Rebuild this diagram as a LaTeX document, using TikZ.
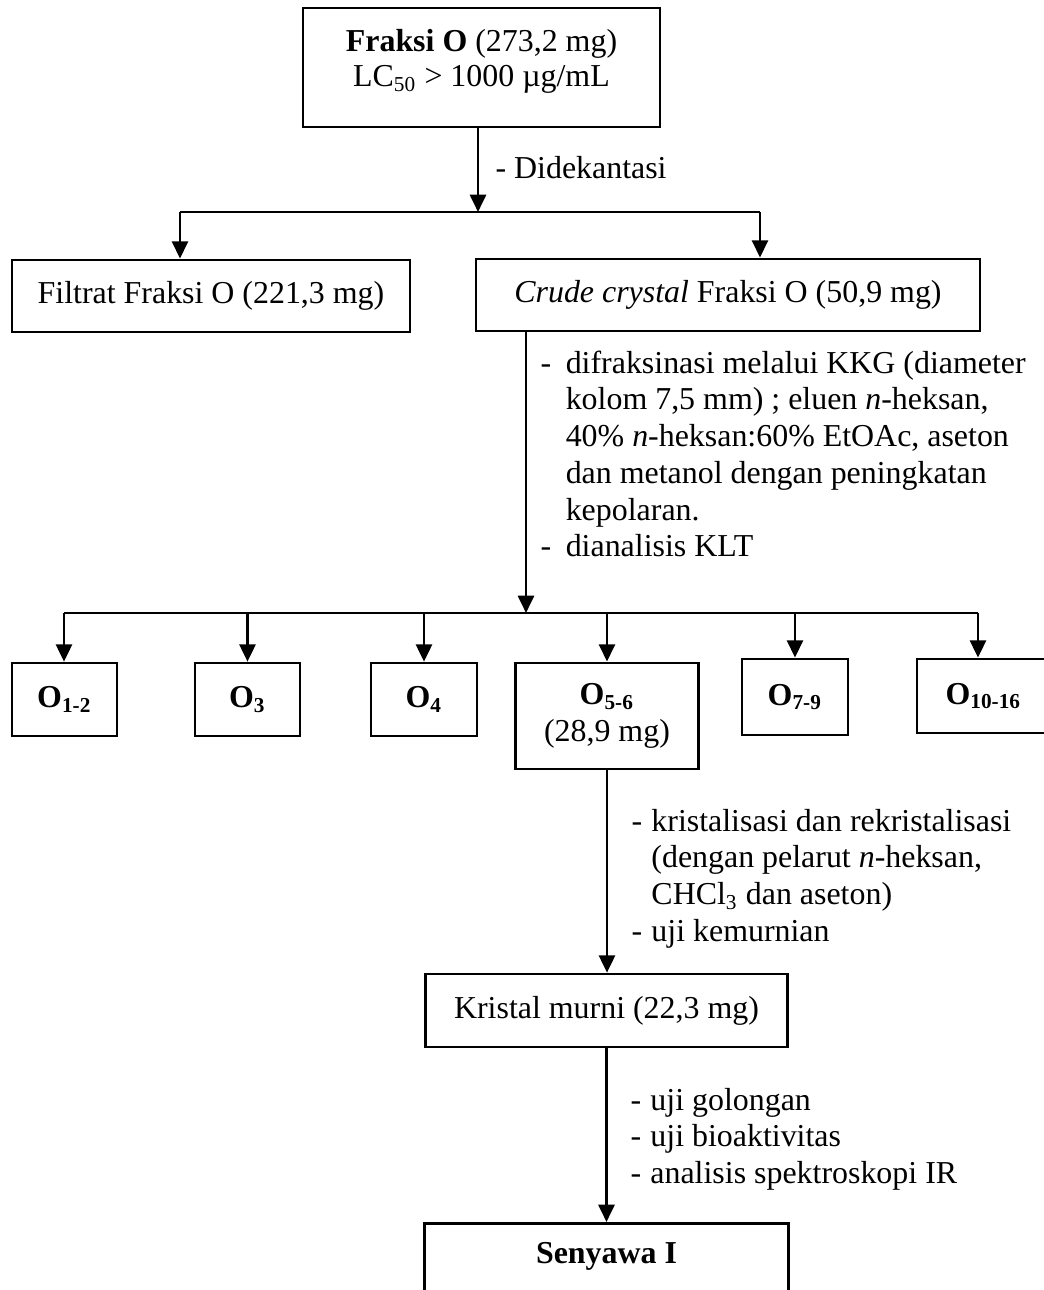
\documentclass[tikz,border=0pt]{standalone}
\usepackage{fontspec}
\setmainfont{Liberation Serif}
\usetikzlibrary{arrows.meta}

\begin{document}
\begin{tikzpicture}[x=0.376pt, y=-0.376pt]
\tikzstyle{box} = [draw=black, line width=1.05pt, inner sep=0pt, align=center, font=\fontsize{12}{13.8}\selectfont]
\tikzstyle{note} = [inner sep=0pt, anchor=north west, align=left, font=\fontsize{12}{13.8}\selectfont]
\tikzstyle{edgeline} = [line width=1.05pt]
\tikzstyle{flowarrow} = [edgeline, -{Triangle[length=6.5pt, width=6pt]}]

\useasboundingbox (0,0) rectangle (1044,1290);
\clip (0,0) rectangle (1044,1290);

% boxes
\node (FraksiO) [box, minimum width=134.2pt, minimum height=44.7pt, font=\fontsize{12}{13.2}\selectfont] at (481.5,67.5)
  {\textbf{Fraksi O} (273,2 mg)\\LC\textsubscript{50} > 1000 µg/mL\rule[-7pt]{0pt}{0pt}};
\node (Filtrat) [box, minimum width=149.6pt, minimum height=27.1pt] at (211,296) {Filtrat Fraksi O (221,3 mg)};
\node (Crude) [box, minimum width=189.5pt, minimum height=27.1pt] at (728,295) {\textit{Crude crystal} Fraksi O (50,9 mg)};

\node (O12) [box, minimum width=39.5pt, minimum height=27.4pt] at (64.5,699.5) {\textbf{O\textsubscript{1-2}}};
\node (O3) [box, minimum width=39.5pt, minimum height=27.4pt] at (247.5,699.5) {\textbf{O\textsubscript{3}}};
\node (O4) [box, minimum width=39.9pt, minimum height=27.4pt] at (424,699.5) {\textbf{O\textsubscript{4}}};
\node (O56) [box, minimum width=68.8pt, minimum height=39.9pt] at (607,716) {\textbf{O\textsubscript{5-6}}\\(28,9 mg)};
\node (O79) [box, minimum width=39.9pt, minimum height=28.6pt] at (795,697) {\textbf{O\textsubscript{7-9}}};
\node (O1016) [box, minimum width=50pt, minimum height=27.8pt] at (983.5,696) {\textbf{O\textsubscript{10-16}}};

\node (Kristal) [box, minimum width=136.1pt, minimum height=27.4pt] at (606.5,1010.5) {Kristal murni (22,3 mg)};
\node (Senyawa) [box, anchor=north, minimum width=136.9pt, inner ysep=7pt, text depth=30pt] at (606.5,1222) {\textbf{Senyawa I}};

% keterangan
\node (KetDekantasi) [note, anchor=west] at (495,168) {- Didekantasi};
\node (KetKKG) [note] at (540,347) {\begin{tabular}{@{}l@{\hspace{5.5pt}}l@{}}
- & difraksinasi melalui KKG (diameter\\
  & kolom 7,5 mm) ; eluen \textit{n}-heksan,\\
  & 40\% \textit{n}-heksan:60\% EtOAc, aseton\\
  & dan metanol dengan peningkatan\\
  & kepolaran.\\
- & dianalisis KLT
\end{tabular}};
\node (KetKristal) [note] at (631,805) {\begin{tabular}{@{}l@{\hspace{3.5pt}}l@{}}
- & kristalisasi dan rekristalisasi\\
  & (dengan pelarut \textit{n}-heksan,\\
  & CHCl\textsubscript{3} dan aseton)\\
- & uji kemurnian
\end{tabular}};
\node (KetUji) [note] at (630,1084) {\begin{tabular}{@{}l@{\hspace{3.5pt}}l@{}}
- & uji golongan\\
- & uji bioaktivitas\\
- & analisis spektroskopi IR
\end{tabular}};

% connectors
\coordinate (Split1) at (478,212);
\coordinate (Split1L) at (180,212);
\coordinate (Split1R) at (760,212);
\draw[flowarrow] (FraksiO.south -| Split1) -- (Split1);
\draw[edgeline] (Split1L) -- (Split1R);
\draw[flowarrow] (Split1L) -- (Split1L |- Filtrat.north);
\draw[flowarrow] (Split1R) -- (Split1R |- Crude.north);

\coordinate (Split2) at (526,613);
\coordinate (Split2L) at (64,613);
\coordinate (Split2R) at (978,613);
\draw[flowarrow] (Crude.south -| Split2) -- (Split2);
\draw[edgeline] (Split2L) -- (Split2R);
\draw[flowarrow] (Split2L) -- (Split2L |- O12.north);
\draw[flowarrow] (O3.north |- Split2) -- (O3.north);
\draw[flowarrow] (O4.north |- Split2) -- (O4.north);
\draw[flowarrow] (O56.north |- Split2) -- (O56.north);
\draw[flowarrow] (O79.north |- Split2) -- (O79.north);
\draw[flowarrow] (Split2R) -- (Split2R |- O1016.north);

\draw[flowarrow] (O56.south) -- (O56.south |- Kristal.north);
\draw[flowarrow] (Kristal.south) -- (Kristal.south |- Senyawa.north);

\end{tikzpicture}
\end{document}
